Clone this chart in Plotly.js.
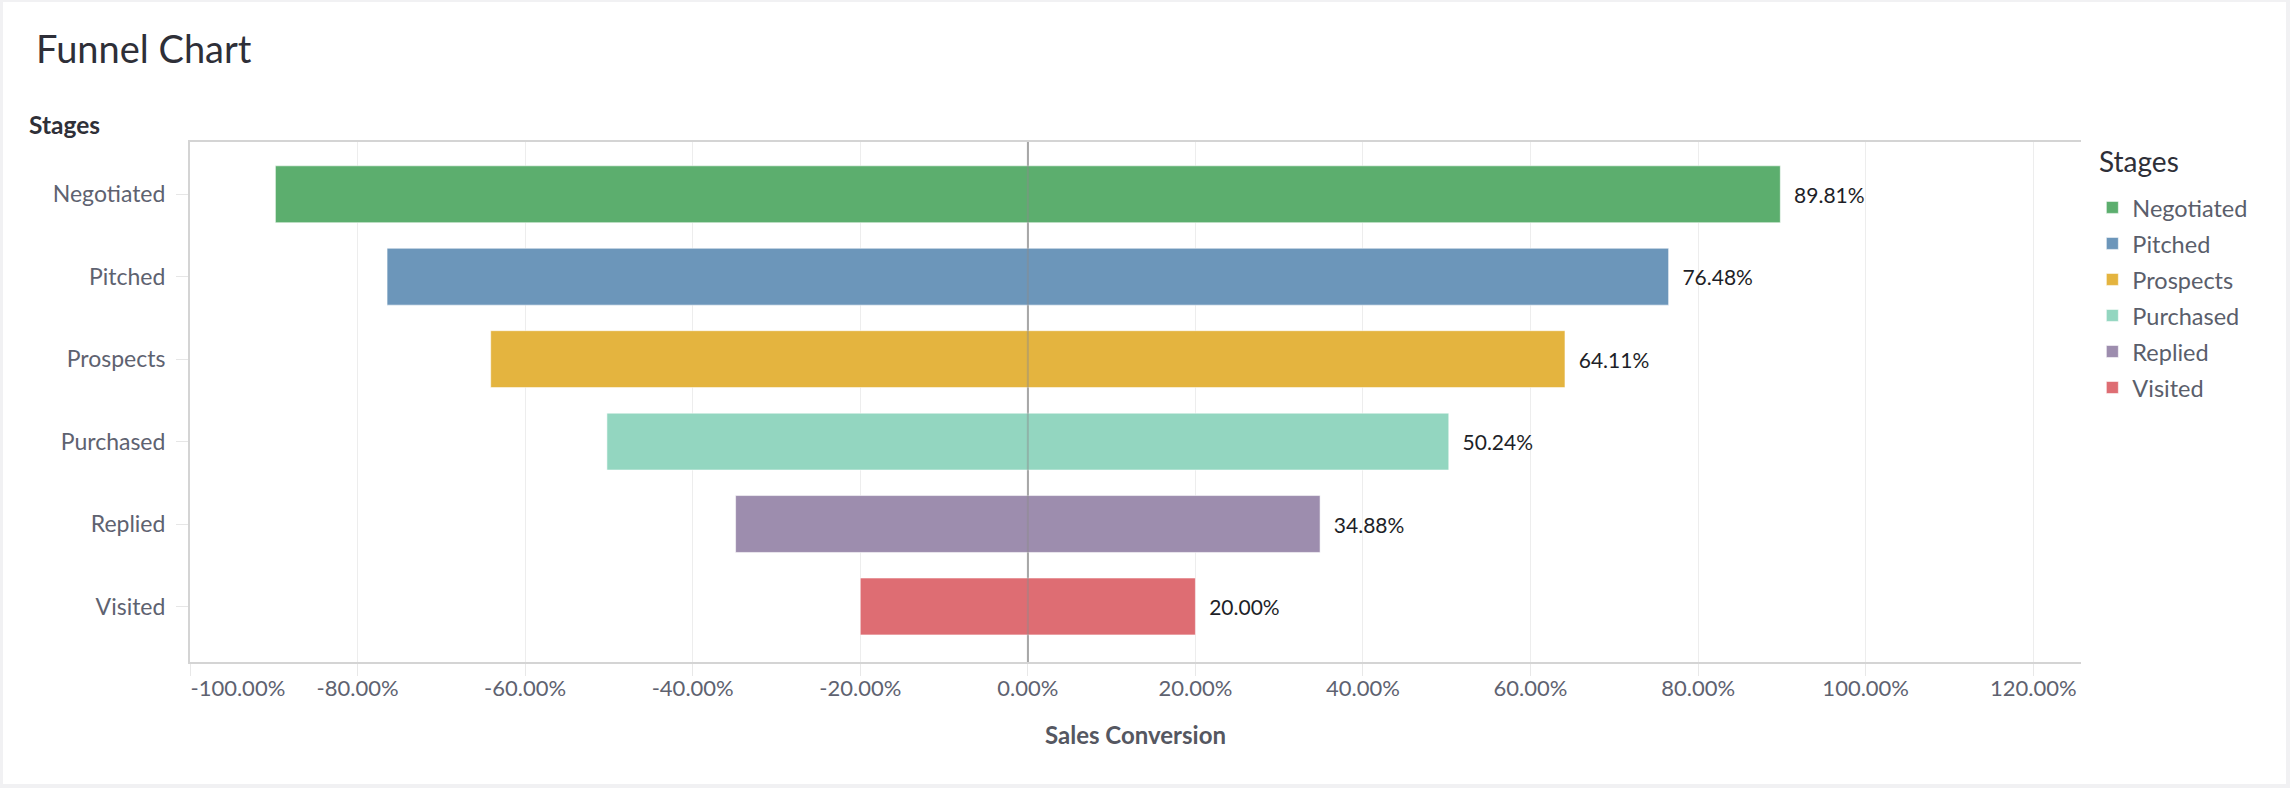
<!DOCTYPE html>
<html>
<head>
<meta charset="utf-8">
<script src="https://cdn.plot.ly/plotly-3.0.1.min.js"></script>
<style>
  html, body { margin: 0; padding: 0; background: #f1f1f3; width: 2290px; height: 788px; overflow: hidden; }
  #chart { position: absolute; left: 3px; top: 2px; width: 2283px; height: 782px; background: #ffffff; }
</style>
</head>
<body>
<div id="chart"></div>
<script>
// ---- data ----
const stages = ["Negotiated", "Pitched", "Prospects", "Purchased", "Replied", "Visited"];
const conversion = [0.8981, 0.7648, 0.6411, 0.5024, 0.3488, 0.2000];
const stageColors = ["#5cae6e", "#6c96ba", "#e4b43f", "#93d6c0", "#9d8dae", "#de6d73"];
const tickVals = [-1.0, -0.8, -0.6, -0.4, -0.2, 0, 0.2, 0.4, 0.6, 0.8, 1.0, 1.2];
const tickLabels = ["-100.00%", "-80.00%", "-60.00%", "-40.00%", "-20.00%", "0.00%",
                    "20.00%", "40.00%", "60.00%", "80.00%", "100.00%", "120.00%"];

const FONT = "Lato, 'Open Sans', sans-serif";
const pad = "\u00A0".repeat(17);

const traces = stages.map((s, i) => ({
  type: "bar",
  orientation: "h",
  name: '<span style="font-size:23.5px">' + s + '</span>',
  y: [s],
  x: [2 * conversion[i]],
  base: [-conversion[i]],
  width: 0.69,
  marker: { color: stageColors[i], line: { color: "rgba(255,255,255,0.55)", width: 1 } },
  text: ["\u00A0\u00A0" + (conversion[i] * 100).toFixed(2) + "%"],
  textposition: "outside",
  constraintext: "none",
  cliponaxis: false,
  textfont: { family: FONT, size: 21, color: "#1e1f28" },
  hoverinfo: "x"
}));

const layout = {
  width: 2283, height: 782,
  paper_bgcolor: "#ffffff", plot_bgcolor: "#ffffff",
  margin: { l: 187, r: 205, t: 140, b: 122, pad: 0 },
  font: { family: FONT, size: 22, color: "#5e6270" },
  barmode: "overlay",
  showlegend: true,
  title: {
    text: "Funnel Chart",
    font: { family: FONT, size: 38, color: "#2e2f38" },
    xref: "container", x: 0.0145, xanchor: "left",
    yref: "container", y: 0.9395, yanchor: "middle"
  },
  xaxis: {
    range: [-1.0, 1.257],
    tickvals: tickVals,
    ticktext: tickLabels.map((t, i) => i === 0 ? pad + t : t),
    tickfont: { family: FONT, size: 22, color: "#5e6270" },
    showgrid: true, gridcolor: "#ededed", gridwidth: 1,
    zeroline: true, zerolinecolor: "#bdbdbd", zerolinewidth: 2,
    showline: true, linecolor: "#d4d4d4", linewidth: 2, mirror: true,
    ticks: "outside", ticklen: 12, tickcolor: "#e8e8e8", tickwidth: 1,
    ticklabelstandoff: -6,
    title: { text: "Sales Conversion", font: { family: FONT, size: 24, color: "#555761", weight: "bold" }, standoff: 27 },
    automargin: false, fixedrange: true
  },
  yaxis: {
    type: "category",
    categoryorder: "array", categoryarray: stages,
    range: [5.674, -0.634],
    tickfont: { family: FONT, size: 23, color: "#5e6270" },
    showgrid: false, zeroline: false,
    showline: true, linecolor: "#d4d4d4", linewidth: 2, mirror: false,
    ticks: "outside", ticklen: 12, tickcolor: "#e6e6e6", tickwidth: 1,
    ticklabelstandoff: 6,
    automargin: false, fixedrange: true
  },
  legend: {
    x: 1.006, xanchor: "left", y: 0.9185, yanchor: "top",
    font: { family: FONT, size: 25.4, color: "#5a5e6b" },
    bgcolor: "rgba(0,0,0,0)", traceorder: "normal"
  },
  shapes: [{
    type: "line", xref: "x", yref: "paper", x0: 0, x1: 0, y0: 0, y1: 1,
    layer: "above", line: { color: "rgba(140,140,140,0.45)", width: 2 }
  }],
  annotations: [{
    text: "Stages", showarrow: false,
    xref: "paper", yref: "paper", x: -0.0862, xanchor: "left", y: 1.0346, yanchor: "middle",
    font: { family: FONT, size: 24.5, color: "#2f3038", weight: "bold" }
  }, {
    text: "Stages", showarrow: false,
    xref: "paper", yref: "paper", x: 1.0085, xanchor: "left", y: 0.9635, yanchor: "middle",
    font: { family: FONT, size: 28, color: "#2e2f38" }
  }]
};

Plotly.newPlot("chart", traces, layout, { displayModeBar: false, staticPlot: true });
</script>
</body>
</html>
